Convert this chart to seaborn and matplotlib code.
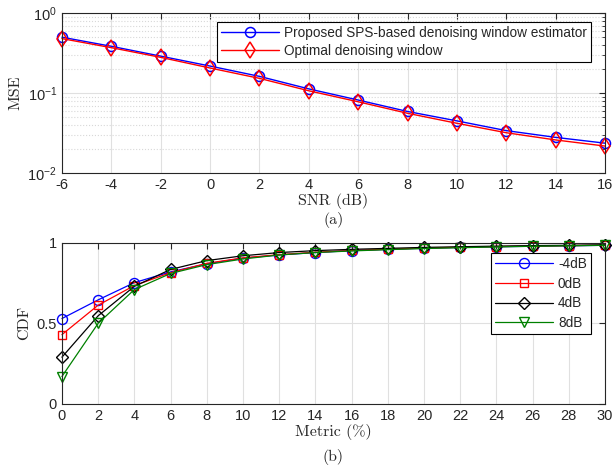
import numpy as np
import pandas as pd
import matplotlib
matplotlib.use("Agg")
import matplotlib.pyplot as plt
import seaborn as sns
from matplotlib.ticker import LogLocator, NullFormatter

# ---- data ----
snr = [-6, -4, -2, 0, 2, 4, 6, 8, 10, 12, 14, 16]
mse_proposed = [0.50, 0.385, 0.29, 0.218, 0.162, 0.113, 0.082, 0.059, 0.045, 0.034, 0.028, 0.0237]
mse_optimal = [0.48, 0.37, 0.28, 0.206, 0.153, 0.107, 0.078, 0.056, 0.042, 0.032, 0.026, 0.0218]

metric = [0, 2, 4, 6, 8, 10, 12, 14, 16, 18, 20, 22, 24, 26, 28, 30]
cdf_m4 = [0.53, 0.646, 0.753, 0.82, 0.87, 0.905, 0.925, 0.94, 0.952, 0.96, 0.967, 0.972, 0.976, 0.979, 0.982, 0.985]
cdf_0 = [0.43, 0.613, 0.735, 0.815, 0.873, 0.907, 0.927, 0.942, 0.953, 0.961, 0.968, 0.973, 0.977, 0.98, 0.983, 0.986]
cdf_4 = [0.29, 0.547, 0.73, 0.835, 0.89, 0.92, 0.94, 0.952, 0.96, 0.966, 0.972, 0.976, 0.98, 0.983, 0.985, 0.988]
cdf_8 = [0.17, 0.50, 0.71, 0.81, 0.865, 0.9, 0.925, 0.94, 0.95, 0.958, 0.965, 0.97, 0.975, 0.979, 0.982, 0.985]

top_labels = ['Proposed SPS-based denoising window estimator', 'Optimal denoising window']
bottom_labels = ['-4dB', '0dB', '4dB', '8dB']

sns.set_style("white")
plt.rcParams['font.family'] = ['Liberation Sans', 'DejaVu Sans']
plt.rcParams['axes.unicode_minus'] = False
plt.rcParams['mathtext.fontset'] = 'custom'
plt.rcParams['mathtext.rm'] = 'Liberation Sans'
plt.rcParams['mathtext.it'] = 'Liberation Sans:italic'

fig = plt.figure(figsize=(6.13, 4.68), dpi=100)
ax1 = fig.add_axes([0.101, 0.630, 0.886, 0.342])
ax2 = fig.add_axes([0.101, 0.137, 0.886, 0.344])

label_font = dict(family='cmr10', fontsize=11.5)

# ---- top plot ----
for yv, c, m, ms, lab in zip([mse_proposed, mse_optimal], ['#0000ff', '#ff0000'], ['o', 'd'], [7.2, 8.5], top_labels):
    sns.lineplot(x=snr, y=yv, color=c, marker=m, markersize=ms, markerfacecolor='none',
                 markeredgecolor=c, markeredgewidth=1.1, linewidth=1.0, label=lab,
                 clip_on=False, ax=ax1)
ax1.set_yscale('log')
ax1.set_ylim(0.01, 1)
ax1.set_xlim(-6, 16)
ax1.set_xticks(np.arange(-6, 17, 2))
ax1.yaxis.set_minor_locator(LogLocator(base=10, subs=np.arange(2, 10)))
ax1.yaxis.set_minor_formatter(NullFormatter())
ax1.grid(True, which='major', color='#e0e0e0', linewidth=0.8)
ax1.grid(True, which='minor', axis='y', color='#d8d8d8', linestyle=':', linewidth=0.8)
ax1.set_axisbelow(True)
ax1.set_xlabel('SNR (dB)', **label_font, labelpad=1)
ax1.set_ylabel('MSE', **label_font, labelpad=4)
ax1.text(0.5, -0.295, '(a)', transform=ax1.transAxes, ha='center', va='center', **label_font)
leg1 = ax1.legend(loc='upper right', bbox_to_anchor=(0.974, 0.944), borderaxespad=0, fontsize=9.8,
                  frameon=True, fancybox=False, edgecolor='black', framealpha=1, handlelength=4.2,
                  borderpad=0.3, labelspacing=0.3, handletextpad=0.4)
leg1.get_frame().set_linewidth(0.8)

# ---- bottom plot ----
colors = ['#0000ff', '#ff0000', '#000000', '#008000']
markers = ['o', 's', 'D', 'v']
msizes = [7.2, 5.8, 6.2, 7.5]
for yv, c, m, ms, lab in zip([cdf_m4, cdf_0, cdf_4, cdf_8], colors, markers, msizes, bottom_labels):
    sns.lineplot(x=metric, y=yv, color=c, marker=m, markersize=ms, markerfacecolor='none',
                 markeredgecolor=c, markeredgewidth=1.0, linewidth=0.9, label=lab,
                 clip_on=False, ax=ax2)
ax2.set_xlim(0, 30)
ax2.set_ylim(0, 1)
ax2.set_xticks(np.arange(0, 31, 2))
ax2.set_yticks([0, 0.5, 1])
ax2.set_yticklabels(['0', '0.5', '1'])
ax2.grid(True, which='major', color='#e0e0e0', linewidth=0.8)
ax2.set_axisbelow(True)
ax2.set_xlabel('Metric (%)', **label_font, labelpad=1)
ax2.set_ylabel('CDF', **label_font, labelpad=4)
ax2.text(0.5, -0.33, '(b)', transform=ax2.transAxes, ha='center', va='center', **label_font)
leg2 = ax2.legend(loc='upper right', bbox_to_anchor=(0.974, 0.938), borderaxespad=0, fontsize=9.8,
                  frameon=True, fancybox=False, edgecolor='black', framealpha=1, handlelength=4.2,
                  borderpad=0.3, labelspacing=0.42, handletextpad=0.4)
leg2.get_frame().set_linewidth(0.8)

for ax in (ax1, ax2):
    for s in ax.spines.values():
        s.set_visible(True)
        s.set_color('#262626')
        s.set_linewidth(0.8)
    ax.tick_params(which='both', direction='in', top=True, right=True, labelsize=10.5,
                   colors='#262626', labelcolor='#262626')
    ax.tick_params(which='major', length=4)
    ax.tick_params(which='minor', length=2)

fig.savefig('out.png', dpi=100)
